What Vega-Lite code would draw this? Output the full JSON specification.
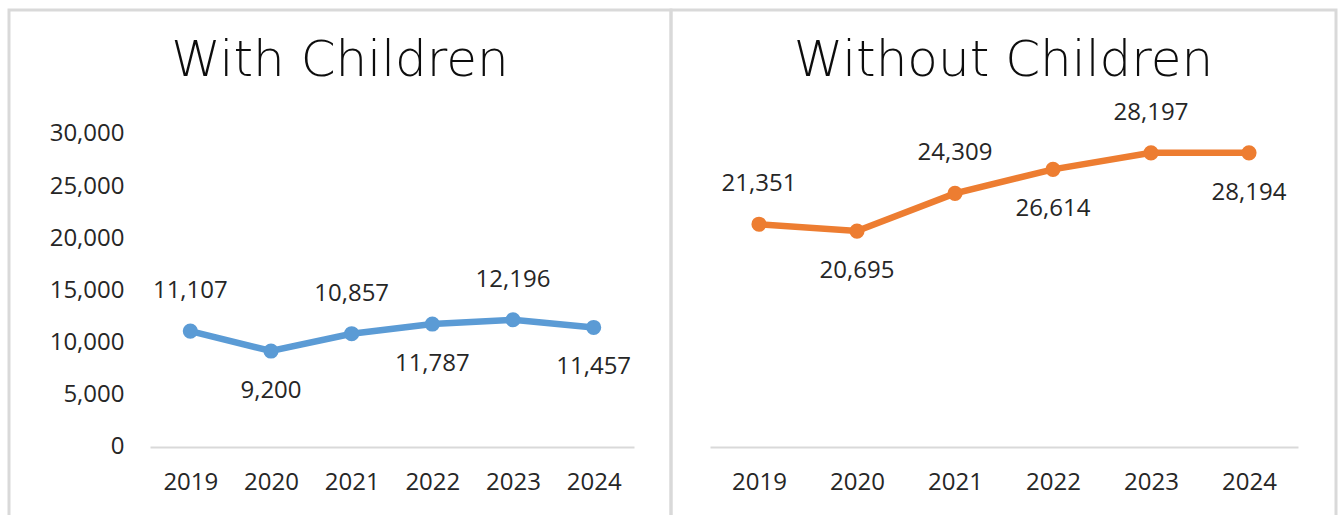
{
  "$schema": "https://vega.github.io/schema/vega-lite/v6.json",
  "padding": {"left": 7, "top": 8, "right": 0, "bottom": 0},
  "autosize": {"type": "pad"},
  "background": "white",
  "spacing": 0,
  "bounds": "flush",
  "config": {
    "view": {"stroke": "#d9d9d9", "strokeWidth": 3},
    "font": "Open Sans",
    "text": {"font": "Open Sans", "fontSize": 24, "color": "#262626", "baseline": "middle", "align": "center"}
  },
  "datasets": {
    "with": [
      {"year": "2019", "value": 11107},
      {"year": "2020", "value": 9200},
      {"year": "2021", "value": 10857},
      {"year": "2022", "value": 11787},
      {"year": "2023", "value": 12196},
      {"year": "2024", "value": 11457}
    ],
    "without": [
      {"year": "2019", "value": 21351},
      {"year": "2020", "value": 20695},
      {"year": "2021", "value": 24309},
      {"year": "2022", "value": 26614},
      {"year": "2023", "value": 28197},
      {"year": "2024", "value": 28194}
    ]
  },
  "hconcat": [
    {
      "width": 662,
      "height": 510,
      "title": {"text": "With Children", "fontSize": 50, "font": "DejaVu Sans", "fontWeight": 200, "color": "#0d0d0d", "offset": -116, "baseline": "alphabetic", "anchor": "middle", "frame": "group"},
      "data": {"name": "with"},
      "encoding": {
        "x": {"field": "year", "type": "ordinal", "scale": {"type": "point", "range": [141, 625], "padding": 0.5},
          "axis": {"title": null, "domainColor": "#d9d9d9", "domainWidth": 2, "ticks": false, "tickSize": 0, "labelPadding": 23, "labelFontSize": 24, "labelColor": "#262626", "labelFont": "Open Sans", "offset": -73, "labelAngle": 0, "grid": false}},
        "y": {"field": "value", "type": "quantitative", "scale": {"domain": [-6997, 41885], "nice": false, "zero": false},
          "axis": {"title": null, "values": [0, 5000, 10000, 15000, 20000, 25000, 30000], "format": ",d", "domain": false, "ticks": false, "tickSize": 0, "labelPadding": 0, "offset": -115, "grid": false, "labelFontSize": 24, "labelColor": "#262626", "labelFont": "Open Sans"}}
      },
      "layer": [
        {"mark": {"type": "line", "color": "#5B9BD5", "strokeWidth": 6.5}},
        {"mark": {"type": "point", "filled": true, "size": 230, "color": "#5B9BD5", "opacity": 1}},
        {"transform": [{"filter": "datum.year == '2019' || datum.year == '2021' || datum.year == '2023'"}],
          "mark": {"type": "text", "dy": -40}, "encoding": {"text": {"field": "value", "type": "quantitative", "format": ",d"}}},
        {"transform": [{"filter": "datum.year == '2020' || datum.year == '2022' || datum.year == '2024'"}],
          "mark": {"type": "text", "dy": 40}, "encoding": {"text": {"field": "value", "type": "quantitative", "format": ",d"}}}
      ]
    },
    {
      "width": 665,
      "height": 510,
      "title": {"text": "Without Children", "fontSize": 50, "font": "DejaVu Sans", "fontWeight": 200, "color": "#0d0d0d", "offset": -116, "baseline": "alphabetic", "anchor": "middle", "frame": "group"},
      "data": {"name": "without"},
      "encoding": {
        "x": {"field": "year", "type": "ordinal", "scale": {"type": "point", "range": [39, 627], "padding": 0.5},
          "axis": {"title": null, "domainColor": "#d9d9d9", "domainWidth": 2, "ticks": false, "tickSize": 0, "labelPadding": 23, "labelFontSize": 24, "labelColor": "#262626", "labelFont": "Open Sans", "offset": -73, "labelAngle": 0, "grid": false}},
        "y": {"field": "value", "type": "quantitative", "scale": {"domain": [-6997, 41885], "nice": false, "zero": false}, "axis": null}
      },
      "layer": [
        {"mark": {"type": "line", "color": "#ED7D31", "strokeWidth": 6.5}},
        {"mark": {"type": "point", "filled": true, "size": 230, "color": "#ED7D31", "opacity": 1}},
        {"transform": [{"filter": "datum.year == '2019' || datum.year == '2021' || datum.year == '2023'"}],
          "mark": {"type": "text", "dy": -40}, "encoding": {"text": {"field": "value", "type": "quantitative", "format": ",d"}}},
        {"transform": [{"filter": "datum.year == '2020' || datum.year == '2022' || datum.year == '2024'"}],
          "mark": {"type": "text", "dy": 40}, "encoding": {"text": {"field": "value", "type": "quantitative", "format": ",d"}}}
      ]
    }
  ]
}
